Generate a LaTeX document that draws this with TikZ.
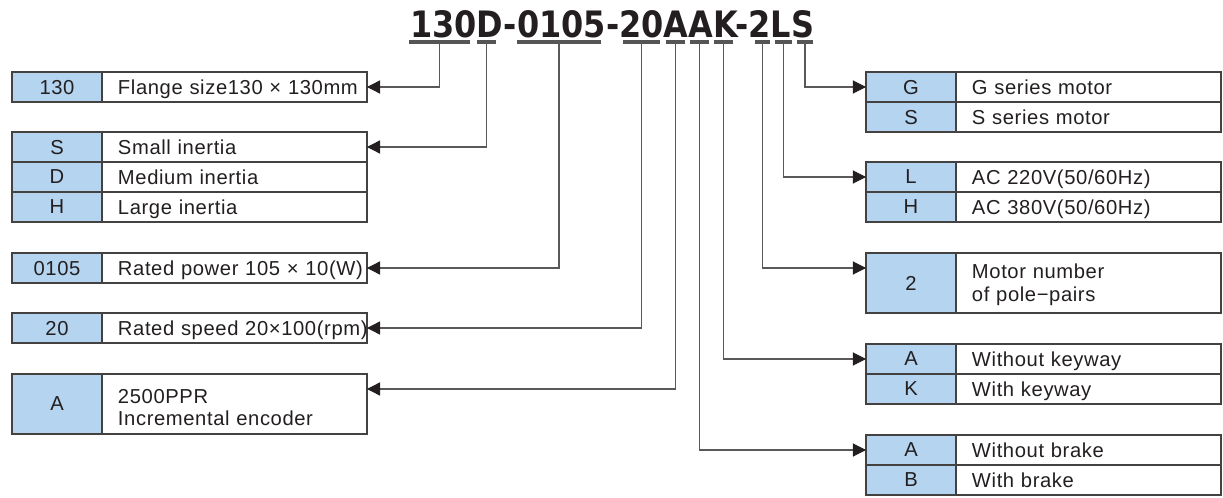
\documentclass[tikz,border=0pt]{standalone}
\usepackage{fontspec}
\setmainfont{Liberation Sans}[LetterSpace=3]
\newfontfamily\codefont{DejaVu Sans}
\usetikzlibrary{positioning,calc,arrows.meta}
\definecolor{cellblue}{RGB}{180,212,240}
\definecolor{ink}{RGB}{35,31,32}
\definecolor{rulegray}{RGB}{85,85,85}
\tikzset{
  cell/.style={draw=ink!85,line width=0.7pt,inner sep=0pt,outer sep=0pt,minimum height=0.6cm,text depth=0pt,text=ink,font=\fontsize{11.5}{13}\selectfont},
  codecell/.style={cell,fill=cellblue,minimum width=1.8cm},
  desccell/.style={cell,fill=white,text width=5.3cm,align=left,execute at begin node={\leftskip=0.32cm}},
  twoline/.style={minimum height=1.2cm,text depth=9pt},
  conn/.style={draw=gray!70!black,line width=0.6pt,-{Triangle[length=7.5pt,width=7.5pt,color=ink]}},
  bar/.style={draw=rulegray,line width=2.3pt}
}

\begin{document}
\begin{tikzpicture}[x=0.02cm,y=-0.02cm]
\useasboundingbox (0,0) rectangle (1223,497);
% model code and the bars under its parts
\node[anchor=base,text=ink] (model) at (612,37) {\scalebox{1.01}[1.15]{\codefont\bfseries\fontsize{18}{18}\selectfont 130D-0105-20AAK-2LS}};
\foreach \n/\a/\b in {130/409/470, D/477/496, 0105/517/601, 20/623/660, A/666/685, B/690/709, K/714/733, P/755/770, L/775/792, S/797/813} {
  \draw[bar] (\a,42) -- (\b,42);
  \coordinate (b\n) at ({(\a+\b)/2},42);
}

% left tables
\node[codecell,anchor=north west] (c130) at (12,72) {130};
\node[desccell,right=0pt of c130] (d130) {Flange size130 × 130mm};
\node[codecell,anchor=north west] (cS) at (12,132) {S};
\node[desccell,right=0pt of cS] (dS) {Small inertia};
\node[codecell,below=0pt of cS] (cD) {D};
\node[desccell,right=0pt of cD] (dD) {Medium inertia};
\node[codecell,below=0pt of cD] (cH) {H};
\node[desccell,right=0pt of cH] (dH) {Large inertia};
\node[codecell,anchor=north west] (c0105) at (12,253) {0105};
\node[desccell,right=0pt of c0105] (d0105) {Rated power 105 × 10(W)};
\node[codecell,anchor=north west] (c20) at (12,313) {20};
\node[desccell,right=0pt of c20] (d20) {\mbox{Rated speed 20×100(rpm)}};
\node[codecell,anchor=north west,twoline,text depth=0pt] (cenc) at (12,374) {A};
\node[desccell,right=0pt of cenc,twoline] (denc) {2500PPR\\Incremental encoder};

% right tables
\node[codecell,anchor=north west] (cG) at (866,72) {G};
\node[desccell,right=0pt of cG] (dG) {G series motor};
\node[codecell,below=0pt of cG] (cSm) {S};
\node[desccell,right=0pt of cSm] (dSm) {S series motor};
\node[codecell,anchor=north west] (cL) at (866,162) {L};
\node[desccell,right=0pt of cL] (dL) {AC 220V(50/60Hz)};
\node[codecell,below=0pt of cL] (cHv) {H};
\node[desccell,right=0pt of cHv] (dHv) {AC 380V(50/60Hz)};
\node[codecell,anchor=north west,twoline,text depth=0pt] (cpole) at (866,253) {2};
\node[desccell,right=0pt of cpole,twoline,text depth=13pt] (dpole) {Motor number\\of pole−pairs};
\node[codecell,anchor=north west] (ckA) at (866,344) {A};
\node[desccell,right=0pt of ckA] (dkA) {Without keyway};
\node[codecell,below=0pt of ckA] (ckK) {K};
\node[desccell,right=0pt of ckK] (dkK) {With keyway};
\node[codecell,anchor=north west] (cbA) at (866,435) {A};
\node[desccell,right=0pt of cbA] (dbA) {Without brake};
\node[codecell,below=0pt of cbA] (cbB) {B};
\node[desccell,right=0pt of cbB] (dbB) {With brake};

% connectors
\draw[conn] (b130) |- (d130.east);
\draw[conn] (bD) |- (dS.east);
\draw[conn] (b0105) |- (d0105.east);
\draw[conn] (b20) |- (d20.east);
\draw[conn] (bA) |- ($(denc.north east)!0.25!(denc.south east)$);
\draw[conn] (bB) |- (cbA.west);
\draw[conn] (bK) |- (ckA.west);
\draw[conn] (bP) |- ($(cpole.north west)!0.25!(cpole.south west)$);
\draw[conn] (bL) |- (cL.west);
\draw[conn] (bS) |- (cG.west);
\end{tikzpicture}
\end{document}
